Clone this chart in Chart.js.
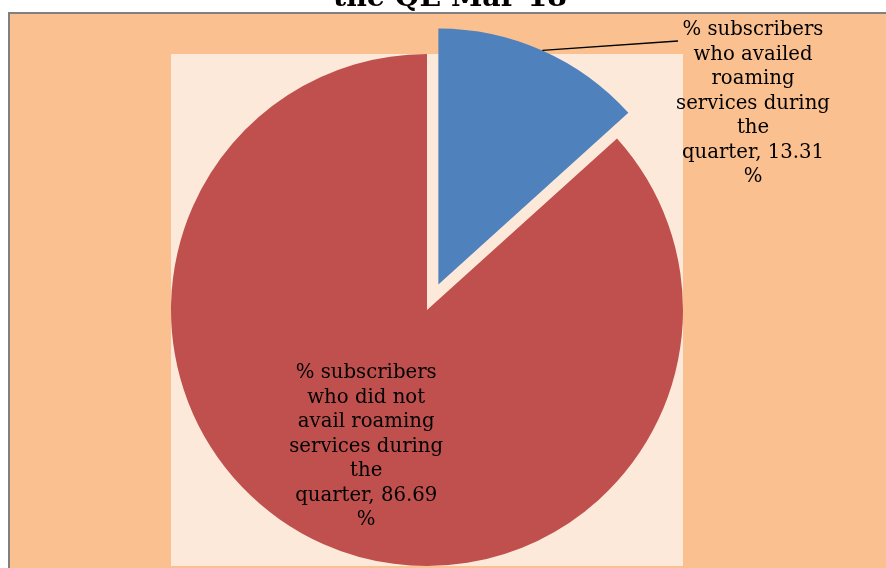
<!DOCTYPE html>
<html>
<head>
<meta charset="utf-8">
<script src="https://cdn.jsdelivr.net/npm/chart.js@4/dist/chart.umd.min.js"></script>
<style>
html,body{margin:0;padding:0;background:#fff;}
#wrap{width:886px;height:568px;position:relative;}
</style>
</head>
<body>
<div id="wrap"><canvas id="c" width="886" height="568"></canvas></div>
<script>
const titleText = "the QE Mar-18";
const categories = [
  "% subscribers who availed roaming services during the quarter",
  "% subscribers who did not avail roaming services during the quarter"
];
const values = [13.31, 86.69];
const labelLines = [
  ["% subscribers", "who availed", "roaming", "services during", "the", "quarter, 13.31", "%"],
  ["% subscribers", "who did not", "avail roaming", "services during", "the", "quarter, 86.69", "%"]
];
const colors = ["#4F81BD", "#C0504D"];
const explode = [28, 0];

const FONT = '"DejaVu Serif", "Liberation Serif", serif';

function fitSize(ctx, text, weight, target) {
  ctx.font = weight + ' 20px ' + FONT;
  const w = ctx.measureText(text).width;
  return 20 * target / w;
}

const decorPlugin = {
  id: 'decor',
  afterDatasetUpdate(chart) {
    const meta = chart.getDatasetMeta(0);
    meta.data.forEach((arc, i) => {
      const d = explode[i] || 0;
      if (!d) return;
      const mid = (arc.startAngle + arc.endAngle) / 2;
      arc.x += Math.cos(mid) * d;
      arc.y += Math.sin(mid) * d;
    });
  },
  beforeDraw(chart) {
    const ctx = chart.ctx;
    const W = chart.width, H = chart.height;
    ctx.save();
    ctx.fillStyle = '#ffffff';
    ctx.fillRect(0, 0, W, H);
    ctx.fillStyle = '#FAC090';
    ctx.fillRect(9, 13, W - 9, H - 13);
    ctx.strokeStyle = '#808080';
    ctx.lineWidth = 2;
    ctx.beginPath();
    ctx.moveTo(9, H);
    ctx.lineTo(9, 13);
    ctx.lineTo(W, 13);
    ctx.stroke();
    const meta = chart.getDatasetMeta(0);
    const ref = meta.data[1];
    const r = ref.outerRadius;
    ctx.fillStyle = '#FDE9D9';
    ctx.fillRect(ref.x - r, ref.y - r, 2 * r, 2 * r);
    ctx.fillStyle = '#000';
    const ts = fitSize(ctx, titleText, 'bold', 234);
    ctx.font = 'bold ' + ts.toFixed(2) + 'px ' + FONT;
    ctx.textAlign = 'center';
    ctx.textBaseline = 'alphabetic';
    ctx.fillText(titleText, 450, 6);
    ctx.restore();
  },
  afterDatasetsDraw(chart) {
    const ctx = chart.ctx;
    const meta = chart.getDatasetMeta(0);
    ctx.save();
    ctx.fillStyle = '#000';
    const fs = fitSize(ctx, 'services during', 'normal', 154);
    ctx.font = fs.toFixed(2) + 'px ' + FONT;
    ctx.textAlign = 'center';
    ctx.textBaseline = 'middle';
    const lh = 24.5;
    {
      const arc = meta.data[0];
      const mid = (arc.startAngle + arc.endAngle) / 2;
      const r = arc.outerRadius;
      const sx = arc.x + Math.cos(mid) * r;
      const sy = arc.y + Math.sin(mid) * r;
      const cx = 753, top = 30;
      ctx.strokeStyle = '#000';
      ctx.lineWidth = 1.3;
      ctx.beginPath();
      ctx.moveTo(sx, sy);
      ctx.lineTo(678, 41);
      ctx.stroke();
      labelLines[0].forEach((t, k) => ctx.fillText(t, cx, top + k * lh));
    }
    {
      const arc = meta.data[1];
      const mid = (arc.startAngle + arc.endAngle) / 2;
      const d = arc.outerRadius * 0.585;
      const cx = arc.x + Math.cos(mid) * d;
      const cy = arc.y + Math.sin(mid) * d;
      const n = labelLines[1].length;
      labelLines[1].forEach((t, k) => ctx.fillText(t, cx, cy + (k - (n - 1) / 2) * lh));
    }
    ctx.restore();
  }
};

new Chart(document.getElementById('c'), {
  type: 'pie',
  data: {
    labels: categories,
    datasets: [{
      data: values,
      backgroundColor: colors,
      borderWidth: 0
    }]
  },
  options: {
    responsive: false,
    animation: false,
    events: [],
    radius: 256,
    layout: { padding: { left: 0, right: 32, top: 52, bottom: 0 } },
    plugins: {
      legend: { display: false },
      tooltip: { enabled: false },
      title: { display: false }
    }
  },
  plugins: [decorPlugin]
});
</script>
</body>
</html>
